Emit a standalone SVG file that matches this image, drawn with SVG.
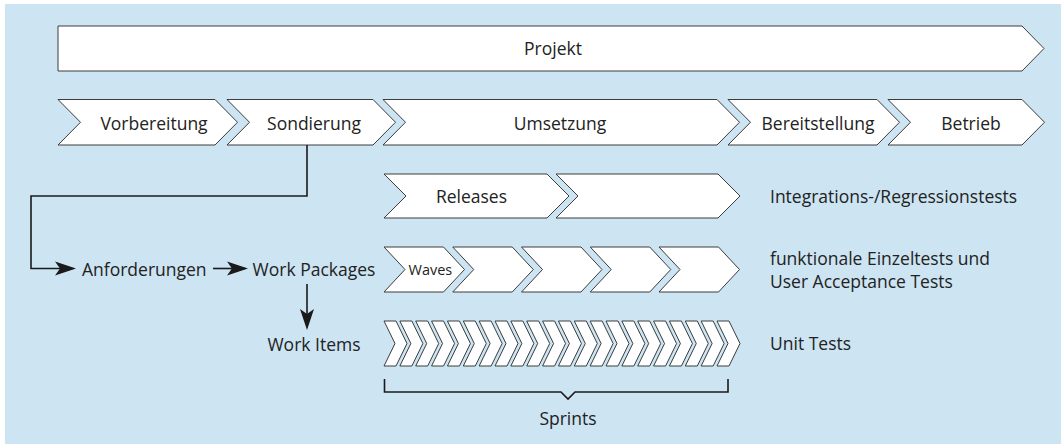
<svg xmlns="http://www.w3.org/2000/svg" width="1061" height="445" viewBox="0 0 1061 445">
  <style>
    .chev { fill: #ffffff; stroke: #3c3c3c; stroke-width: 1; stroke-linejoin: miter; }
    .lbl { font-family: "Open Sans", "Noto Sans", "Liberation Sans", sans-serif; font-size: 17.5px; fill: #222222; }
    .mid { text-anchor: middle; }
    .small { font-size: 14.5px; }
    .wire { fill: none; stroke: #1a1a1a; stroke-width: 1.6; }
  </style>
  <defs>
    <marker id="head" markerUnits="userSpaceOnUse" viewBox="-1 -9 24 18" refX="18" refY="0" markerWidth="24" markerHeight="18" orient="auto">
      <path d="M0,-7 L21,0 L0,7 L5,0 z" fill="#1a1a1a"/>
    </marker>
  </defs>

  <!-- backdrop -->
  <rect x="5" y="4" width="1056" height="440" fill="#cde4f3"/>

  <!-- overall project band -->
  <g id="projekt">
    <path class="chev" d="M58,26 H1022 L1044,48.5 L1022,71 H58 Z"/>
    <text class="lbl mid" x="553" y="55">Projekt</text>
  </g>

  <!-- phases -->
  <g id="vorbereitung">
    <path class="chev" d="M58,99.5 H215 L237.5,122.25 L215,145 H58 L80.5,122.25 Z"/>
    <text class="lbl mid" x="154" y="129.5">Vorbereitung</text>
  </g>
  <g id="sondierung">
    <path class="chev" d="M227,99.5 H373 L395.5,122.25 L373,145 H227 L249.5,122.25 Z"/>
    <text class="lbl mid" x="314" y="129.5">Sondierung</text>
  </g>
  <g id="umsetzung">
    <path class="chev" d="M383,99.5 H717 L739.5,122.25 L717,145 H383 L405.5,122.25 Z"/>
    <text class="lbl mid" x="560" y="129.5">Umsetzung</text>
  </g>
  <g id="bereitstellung">
    <path class="chev" d="M728,99.5 H877 L899.5,122.25 L877,145 H728 L750.5,122.25 Z"/>
    <text class="lbl mid" x="818" y="129.5">Bereitstellung</text>
  </g>
  <g id="betrieb">
    <path class="chev" d="M888,99.5 H1022 L1044.5,122.25 L1022,145 H888 L910.5,122.25 Z"/>
    <text class="lbl mid" x="971" y="129.5">Betrieb</text>
  </g>

  <!-- releases -->
  <g id="releases">
    <path class="chev" d="M384,174 H547 L569,196 L547,218 H384 L406,196 Z"/>
    <path class="chev" d="M556,174 H718 L740,196 L718,218 H556 L578,196 Z"/>
    <text class="lbl mid" x="471.5" y="202.5">Releases</text>
  </g>

  <!-- waves -->
  <g id="waves">
    <path class="chev" d="M384,247 H443.5 L464.5,269.5 L443.5,292 H384 L405,269.5 Z"/>
    <path class="chev" d="M452.75,247 H512.25 L533.25,269.5 L512.25,292 H452.75 L473.75,269.5 Z"/>
    <path class="chev" d="M521.5,247 H581 L602,269.5 L581,292 H521.5 L542.5,269.5 Z"/>
    <path class="chev" d="M590.25,247 H649.75 L670.75,269.5 L649.75,292 H590.25 L611.25,269.5 Z"/>
    <path class="chev" d="M659,247 H718.5 L739.5,269.5 L718.5,292 H659 L680,269.5 Z"/>
    <text class="lbl small" x="408.5" y="275">Waves</text>
  </g>

  <!-- sprints -->
  <g id="sprints">
    <path class="chev" d="M384,321 h12 l11,22.5 l-11,22.5 h-12 l11,-22.5 Z"/>
    <path class="chev" d="M399.86,321 h12 l11,22.5 l-11,22.5 h-12 l11,-22.5 Z"/>
    <path class="chev" d="M415.71,321 h12 l11,22.5 l-11,22.5 h-12 l11,-22.5 Z"/>
    <path class="chev" d="M431.57,321 h12 l11,22.5 l-11,22.5 h-12 l11,-22.5 Z"/>
    <path class="chev" d="M447.43,321 h12 l11,22.5 l-11,22.5 h-12 l11,-22.5 Z"/>
    <path class="chev" d="M463.29,321 h12 l11,22.5 l-11,22.5 h-12 l11,-22.5 Z"/>
    <path class="chev" d="M479.14,321 h12 l11,22.5 l-11,22.5 h-12 l11,-22.5 Z"/>
    <path class="chev" d="M495,321 h12 l11,22.5 l-11,22.5 h-12 l11,-22.5 Z"/>
    <path class="chev" d="M510.86,321 h12 l11,22.5 l-11,22.5 h-12 l11,-22.5 Z"/>
    <path class="chev" d="M526.71,321 h12 l11,22.5 l-11,22.5 h-12 l11,-22.5 Z"/>
    <path class="chev" d="M542.57,321 h12 l11,22.5 l-11,22.5 h-12 l11,-22.5 Z"/>
    <path class="chev" d="M558.43,321 h12 l11,22.5 l-11,22.5 h-12 l11,-22.5 Z"/>
    <path class="chev" d="M574.29,321 h12 l11,22.5 l-11,22.5 h-12 l11,-22.5 Z"/>
    <path class="chev" d="M590.14,321 h12 l11,22.5 l-11,22.5 h-12 l11,-22.5 Z"/>
    <path class="chev" d="M606,321 h12 l11,22.5 l-11,22.5 h-12 l11,-22.5 Z"/>
    <path class="chev" d="M621.86,321 h12 l11,22.5 l-11,22.5 h-12 l11,-22.5 Z"/>
    <path class="chev" d="M637.71,321 h12 l11,22.5 l-11,22.5 h-12 l11,-22.5 Z"/>
    <path class="chev" d="M653.57,321 h12 l11,22.5 l-11,22.5 h-12 l11,-22.5 Z"/>
    <path class="chev" d="M669.43,321 h12 l11,22.5 l-11,22.5 h-12 l11,-22.5 Z"/>
    <path class="chev" d="M685.29,321 h12 l11,22.5 l-11,22.5 h-12 l11,-22.5 Z"/>
    <path class="chev" d="M701.14,321 h12 l11,22.5 l-11,22.5 h-12 l11,-22.5 Z"/>
    <path class="chev" d="M717,321 h12 l11,22.5 l-11,22.5 h-12 l11,-22.5 Z"/>
  </g>

  <!-- brace under the sprints -->
  <g id="sprints-brace">
    <path class="wire" d="M384.5,379 V392 H561 L568,399 L575,392 H728 V379"/>
    <text class="lbl mid" x="568" y="425">Sprints</text>
  </g>

  <!-- left-hand work breakdown -->
  <g id="anforderungen">
    <text class="lbl" x="82" y="275.5">Anforderungen</text>
  </g>
  <g id="work-packages">
    <text class="lbl mid" x="314" y="275.5">Work Packages</text>
  </g>
  <g id="work-items">
    <text class="lbl mid" x="314" y="350.5">Work Items</text>
  </g>

  <!-- test levels -->
  <g id="test-levels">
    <text class="lbl" x="770" y="203">Integrations-/Regressionstests</text>
    <text class="lbl" x="770" y="265">funktionale Einzeltests und</text>
    <text class="lbl" x="770" y="288">User Acceptance Tests</text>
    <text class="lbl" x="770" y="350">Unit Tests</text>
  </g>

  <!-- connectors -->
  <g id="connectors">
    <path class="wire" d="M307,145 V196 H31 V268.5 H73" marker-end="url(#head)"/>
    <path class="wire" d="M213,268.5 H245" marker-end="url(#head)"/>
    <path class="wire" d="M307,284 V327" marker-end="url(#head)"/>
  </g>
</svg>
